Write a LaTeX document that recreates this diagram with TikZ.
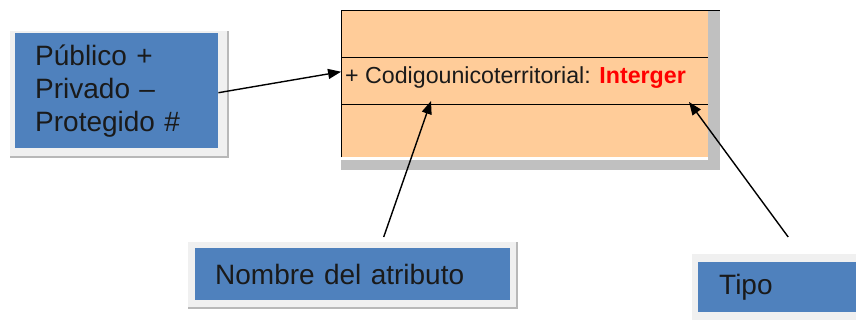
\documentclass[tikz,border=0pt]{standalone}
\usepackage{fontspec}
\setmainfont{Liberation Sans}
\usetikzlibrary{arrows.meta}
\definecolor{boxblue}{HTML}{4F81BD}
\definecolor{clsorange}{HTML}{FFCC99}
\definecolor{shadowgray}{HTML}{C0C0C0}
\definecolor{framegray}{HTML}{F0F0F0}
\definecolor{frameedge}{HTML}{B8B8B8}
\definecolor{txtred}{HTML}{FF0000}
\definecolor{txtblack}{HTML}{1A1A1A}
\begin{document}
\begin{tikzpicture}[x=1pt,y=-1pt,
  bluebox/.style={fill=boxblue, draw=none, inner ysep=0pt, align=left, text=txtblack, anchor=north west},
  framebox/.style={fill=framegray},
  frameline/.style={draw=frameedge, line width=1.5pt},
  arr/.style={-{Triangle[length=13pt,width=10pt]}, line width=1.4pt}]
\useasboundingbox (0,0) rectangle (856,322);
% left box
\fill[framebox] (10,31) rectangle (228,157);
\draw[frameline] (228,31) -- (228,157) -- (10,157);
\node[bluebox, minimum width=203pt, minimum height=115pt, text width=163pt, inner xsep=20pt,
      font=\fontsize{28}{33}\selectfont] (pub) at (15,33) {Público +\\Privado –\\Protegido \#};
% class box
\fill[shadowgray] (708,10) rectangle (720,170);
\fill[shadowgray] (341,160) rectangle (720,170);
\node[fill=clsorange, minimum width=367pt, minimum height=147pt, anchor=north west, inner sep=0pt] (cls) at (341,10) {};
\draw[line width=1pt] (cls.south west) -- (cls.north west) -- (720,10);
\draw[line width=1pt] (341,57) -- (708,57);
\draw[line width=1pt] (341,104) -- (708,104);
\node[anchor=base west, inner sep=0pt, text=txtblack, font=\fontsize{23.2}{27}\selectfont] (attr) at (345,83)
  {+ Codigounicoterritorial: \textcolor{txtred}{\bfseries Interger}};
% nombre box
\fill[framebox] (188,242) rectangle (517,308);
\draw[frameline] (517,242) -- (517,308) -- (188,308);
\node[bluebox, minimum width=315pt, minimum height=52pt, text width=275pt, inner xsep=20pt,
      font=\fontsize{28}{33}\selectfont] (nom) at (195,248) {Nombre del atributo};
% tipo box
\fill[framebox] (692,254) rectangle (856,320);
\node[bluebox, minimum width=158pt, minimum height=50pt, text width=116pt, inner xsep=21pt,
      font=\fontsize{28}{33}\selectfont] (tipo) at (698,262) {Tipo};
% arrows
\coordinate (tipA) at (431,101);
\coordinate (tipB) at (689,102);
\draw[arr, shorten >=4pt] ([yshift=-2pt]pub.east) -- ([yshift=6pt]attr.west);
\draw[arr] ([xshift=31pt,yshift=11pt]nom.north) -- (tipA);
\draw[arr] ([xshift=11pt,yshift=25pt]tipo.north) -- (tipB);
\end{tikzpicture}
\end{document}
